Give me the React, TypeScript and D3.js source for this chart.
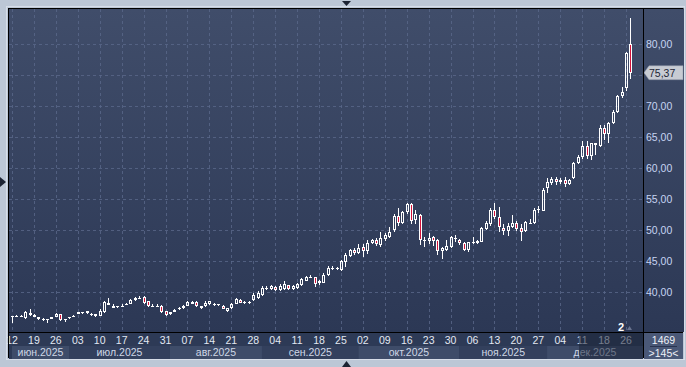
import React from 'react';
import * as d3 from 'd3';

const W = 686;
const H = 367;

// trading calendar (weekdays between these, minus holidays)
const startDate = new Date(2025, 5, 12);
const endDate = new Date(2025, 11, 29);
const holidays = ['2025-12-25'];

const monthLabels = ['июн.2025', 'июл.2025', 'авг.2025', 'сен.2025', 'окт.2025', 'ноя.2025', 'дек.2025'];
const priceTicks = [40, 45, 50, 55, 60, 65, 70, 75, 80];
const lastPrice = 75.37;
const boxTop = '1469';
const boxBottom = '>145<';
const markerLabel = '2';

const openP = [
  36.0, 36.0, 36.0, 35.8, 36.3, 36.0, 35.6, 35.5, 35.6, 35.7, 36.0, 36.4, 35.6, 35.8, 36.0, 36.5, 36.6, 36.6, 36.4, 36.1,
  36.2, 36.7, 38.2, 37.5, 37.6, 37.7, 38.1, 38.1, 38.7, 39.0, 39.2, 38.5, 37.8, 37.8, 37.8, 36.9, 36.4, 36.8, 37.2, 37.4,
  37.8, 38.1, 38.4, 37.5, 37.7, 38.0, 38.0, 38.0, 37.8, 37.0, 37.4, 38.1, 38.7, 38.4, 38.4, 38.7, 39.0, 39.5, 40.6, 40.5,
  40.8, 40.3, 40.5, 41.1, 40.5, 40.6, 41.1, 41.8, 42.4, 42.4, 41.4, 41.5, 42.7, 43.9, 43.8, 43.5, 44.8, 45.8, 46.8, 46.3,
  47.3, 46.6, 47.9, 48.4, 47.6, 48.5, 48.9, 50.0, 52.3, 51.1, 52.9, 54.2, 51.6, 52.4, 48.4, 48.2, 48.8, 48.4, 46.6, 46.8,
  47.3, 48.7, 48.4, 47.9, 46.8, 48.0, 47.9, 48.1, 50.2, 50.9, 53.2, 52.1, 50.3, 49.8, 50.5, 51.1, 50.3, 49.8, 51.2, 51.1,
  53.3, 53.1, 56.8, 57.6, 58.2, 57.7, 58.1, 57.5, 58.4, 60.8, 61.8, 63.5, 61.9, 63.7, 63.5, 66.5, 65.5, 67.3, 69.0, 71.6,
  72.9, 80.0,
];
const highP = [
  36.2, 36.3, 36.3, 37.0, 37.3, 36.4, 35.9, 35.8, 35.7, 36.0, 36.6, 36.5, 35.7, 36.0, 36.3, 36.8, 36.8, 37.0, 36.6, 36.5,
  37.2, 38.5, 39.0, 38.0, 37.8, 38.0, 38.3, 38.9, 39.2, 39.3, 39.3, 38.6, 38.0, 38.0, 37.9, 37.0, 36.8, 37.2, 37.6, 37.9,
  38.5, 38.5, 38.5, 37.8, 38.5, 38.6, 38.2, 38.1, 37.9, 37.5, 38.3, 39.0, 38.8, 38.6, 38.6, 39.8, 40.1, 40.9, 40.9, 41.2,
  41.0, 41.3, 41.7, 41.2, 41.1, 41.5, 42.3, 42.6, 42.8, 42.5, 42.0, 43.0, 44.2, 44.2, 44.1, 45.2, 46.3, 47.0, 47.1, 47.8,
  47.8, 48.4, 48.6, 48.7, 49.6, 49.5, 50.5, 52.6, 53.5, 53.0, 54.3, 54.4, 53.3, 52.6, 48.9, 49.5, 49.0, 48.6, 47.3, 48.4,
  49.0, 49.2, 48.6, 48.0, 48.1, 48.9, 48.4, 50.5, 51.5, 53.5, 54.4, 53.7, 50.9, 51.1, 52.4, 51.4, 51.0, 51.5, 51.7, 53.5,
  53.9, 56.7, 58.4, 58.6, 58.5, 58.4, 58.6, 58.3, 61.0, 62.1, 64.3, 64.4, 64.1, 64.1, 67.0, 67.0, 67.4, 69.4, 71.8, 73.0,
  78.7, 84.2,
];
const lowP = [
  35.0, 35.9, 35.9, 35.7, 36.2, 35.9, 35.5, 35.4, 35.0, 35.6, 35.9, 35.4, 35.1, 35.7, 35.9, 36.4, 36.5, 36.5, 36.2, 36.0,
  36.1, 36.6, 37.9, 37.4, 37.4, 37.6, 38.0, 38.0, 38.6, 38.9, 38.1, 37.6, 37.6, 37.6, 36.6, 36.2, 36.3, 36.7, 37.1, 37.3,
  37.7, 38.0, 37.6, 37.3, 37.6, 37.9, 37.8, 37.7, 37.2, 36.8, 37.3, 38.0, 38.2, 38.1, 38.1, 38.5, 38.9, 39.3, 40.3, 40.4,
  40.2, 40.2, 40.4, 40.3, 40.4, 40.5, 41.0, 41.7, 42.2, 40.8, 41.2, 41.4, 42.6, 43.6, 43.6, 43.4, 44.0, 45.7, 45.9, 46.1,
  45.6, 46.2, 47.8, 47.4, 47.3, 48.3, 48.7, 49.6, 50.6, 51.0, 52.6, 50.9, 51.0, 47.6, 47.3, 47.8, 47.5, 45.9, 45.3, 46.6,
  47.1, 48.1, 47.6, 46.6, 46.5, 47.7, 47.8, 48.0, 50.0, 50.6, 51.8, 49.7, 49.2, 49.0, 50.4, 49.8, 48.3, 49.7, 50.9, 51.0,
  52.8, 53.0, 55.9, 57.3, 57.2, 57.4, 57.0, 57.2, 58.2, 60.6, 61.5, 61.5, 61.3, 62.1, 63.4, 64.5, 64.0, 67.1, 68.9, 71.3,
  72.4, 74.4,
];
const closeP = [
  36.1, 36.1, 36.1, 36.8, 36.6, 36.3, 35.9, 35.7, 35.6, 35.9, 36.5, 35.5, 35.6, 35.9, 36.2, 36.7, 36.7, 36.9, 36.5, 36.4,
  36.9, 38.4, 37.9, 37.8, 37.7, 37.8, 38.1, 38.7, 39.1, 39.1, 38.3, 37.8, 37.8, 37.8, 36.7, 36.3, 36.7, 37.1, 37.5, 37.8,
  38.4, 38.4, 37.8, 37.7, 38.3, 38.5, 38.0, 38.0, 37.3, 37.4, 38.1, 38.8, 38.3, 38.4, 38.4, 39.5, 39.8, 40.6, 40.6, 41.0,
  40.3, 40.9, 41.3, 40.5, 40.9, 41.3, 42.1, 42.4, 42.4, 41.3, 41.8, 42.7, 43.9, 43.9, 43.9, 45.0, 46.0, 46.8, 46.3, 47.1,
  46.6, 47.9, 48.4, 47.7, 48.7, 49.2, 49.7, 52.3, 51.1, 52.9, 54.2, 51.5, 52.6, 48.4, 48.4, 48.7, 48.3, 46.6, 47.1, 47.4,
  48.9, 48.7, 47.9, 46.8, 48.0, 48.0, 48.3, 50.3, 51.1, 53.2, 52.1, 50.5, 49.8, 50.6, 51.1, 50.2, 49.7, 51.3, 51.2, 53.2,
  53.4, 56.5, 57.7, 58.2, 57.7, 58.0, 57.4, 58.1, 60.8, 61.8, 63.5, 62.0, 64.0, 64.0, 66.5, 65.5, 67.3, 69.0, 71.6, 72.2,
  78.5, 75.37,
];

const fmtKey = d3.timeFormat('%Y-%m-%d');
const tradingDays: Date[] = d3
  .timeDay.range(startDate, d3.timeDay.offset(endDate, 1))
  .filter((d) => d.getDay() !== 0 && d.getDay() !== 6 && !holidays.includes(fmtKey(d)));

const PL = 9, PR = 642, PT = 9, PB = 331; // plot area
const AXL = 644, AXR = 683; // right axis panel
const BOT = 358;

export default function App() {
  const n = openP.length;
  const x = d3.scaleLinear().domain([0, n - 1]).range([12, 630.4]);
  const y = d3.scaleLinear().domain([40, 80]).range([292, 44]);
  const fmtPrice = (v: number) => d3.format('.2f')(v).replace('.', ',');
  const fmtDay = d3.timeFormat('%d');

  const tickIdx = d3.range(0, n, 5);
  const monthStarts: number[] = [];
  tradingDays.forEach((d, i) => {
    if (i === 0 || d.getMonth() !== tradingDays[i - 1].getMonth()) monthStarts.push(i);
  });

  const candles = d3.range(n).map((i) => {
    const cx = Math.round(x(i));
    const o = openP[i], c = closeP[i];
    const top = Math.round(y(Math.max(o, c)));
    const bot = Math.round(y(Math.min(o, c)));
    const yh = Math.round(y(highP[i]));
    const yl = Math.round(y(lowP[i]));
    const down = c < o;
    const els: React.ReactNode[] = [];
    if (yh < top) els.push(<line key="h" x1={cx + 0.5} x2={cx + 0.5} y1={yh} y2={top} stroke="#fff" strokeWidth={1} />);
    if (yl > bot) els.push(<line key="l" x1={cx + 0.5} x2={cx + 0.5} y1={bot} y2={yl} stroke="#fff" strokeWidth={1} />);
    if (bot - top < 2) {
      els.push(<rect key="b" x={cx - 1} y={top} width={3} height={Math.max(bot - top, 1)} fill="#fff" />);
    } else {
      els.push(
        <rect key="b" x={cx - 0.5} y={top + 0.5} width={2} height={bot - top - 1}
          fill={down ? '#d3123a' : 'none'} stroke="#fff" strokeWidth={1} />
      );
    }
    return <g key={i}>{els}</g>;
  });

  const yLast = y(lastPrice);
  const labelTicks = priceTicks.filter((p) => Math.abs(y(p) - yLast) > 10);

  return (
    <svg width={W} height={H} style={{ position: 'absolute', left: 0, top: 0 }}
      fontFamily="'Liberation Sans', Arial, sans-serif">
      <defs>
        <linearGradient id="bg" x1="0" y1="0" x2="0" y2="1">
          <stop offset="0" stopColor="#404d6a" />
          <stop offset="1" stopColor="#2c3855" />
        </linearGradient>
      </defs>
      <rect x={0} y={0} width={W} height={H} fill="#bcc7d6" />
      <rect x={6.5} y={6.5} width={AXR - 5} height={BOT - 5} fill="none" stroke="#d6dde8" />
      <rect x={PL} y={PT} width={AXR - PL + 1} height={PB - PT + 1} fill="url(#bg)" />
      {/* bottom axis rows */}
      <rect x={PL} y={333} width={AXL - PL - 1} height={BOT - 333 + 1} fill="#2d3a56" />
      {monthStarts.map((s, k) => {
        const x0 = x(s);
        const x1 = k < monthStarts.length - 1 ? x(monthStarts[k + 1]) : 643;
        return (
          <g key={k}>
            <rect x={x0} y={346} width={x1 - x0} height={13} fill={k % 2 === 0 ? '#3e4c69' : '#33405d'} />
            <text x={(x0 + x1) / 2} y={356} textAnchor="middle" fontSize={10.5} fill="#cfd7e6">{monthLabels[k]}</text>
          </g>
        );
      })}
      {tickIdx.map((i) => (
        <text key={i} x={x(i)} y={344} textAnchor="middle" fontSize={10.5} fill="#e2e8f2">{fmtDay(tradingDays[i])}</text>
      ))}
      <rect x={579} y={333} width={643 - 579} height={BOT - 333 + 1} fill="#1c2438" opacity={0.55} />
      {/* right bottom box */}
      <rect x={AXL} y={333} width={AXR - AXL} height={BOT - 333 + 1} fill="#4a5877" />
      <text x={663.5} y={344} textAnchor="middle" fontSize={10.5} fill="#eef2f8">{boxTop}</text>
      <line x1={650} x2={677} y1={346.5} y2={346.5} stroke="#2a3450" />
      <text x={663.5} y={357} textAnchor="middle" fontSize={10.5} fill="#eef2f8">{boxBottom}</text>
      {/* grid */}
      {tickIdx.map((i) => (
        <line key={'v' + i} x1={Math.round(x(i)) + 0.5} x2={Math.round(x(i)) + 0.5} y1={PT} y2={PB}
          stroke="#5a688a" strokeWidth={1} strokeDasharray="3,3" opacity={0.8} />
      ))}
      {priceTicks.map((p) => (
        <line key={'h' + p} x1={PL} x2={642} y1={Math.round(y(p)) + 0.5} y2={Math.round(y(p)) + 0.5}
          stroke="#5a688a" strokeWidth={1} strokeDasharray="3,3" opacity={0.8} />
      ))}
      {/* candles */}
      <g>{candles}</g>
      {/* marker */}
      <text x={621} y={331} textAnchor="middle" fontSize={11} fontWeight="bold" fill="#ffffff">{markerLabel}</text>
      <polygon points="627,330 632,330 629.5,326" fill="#6b7590" />
      {/* price axis */}
      {labelTicks.map((p) => (
        <text key={'t' + p} x={646} y={y(p) + 4} fontSize={10.5} fill="#c6d4f2">{fmtPrice(p)}</text>
      ))}
      <polygon points={`${AXL},${yLast} ${AXL + 5},${yLast - 7} ${AXR},${yLast - 7} ${AXR},${yLast + 7} ${AXL + 5},${yLast + 7}`}
        fill="#c7cbd3" stroke="#8f96a6" strokeWidth={0.5} />
      <text x={649} y={yLast + 4} fontSize={10.5} fill="#1e2535">{fmtPrice(lastPrice)}</text>
      {/* frame lines */}
      <line x1={PL - 1} x2={AXR + 0.5} y1={8.5} y2={8.5} stroke="#000" />
      <line x1={8.5} x2={8.5} y1={PT - 1} y2={BOT} stroke="#000" />
      <line x1={643.5} x2={643.5} y1={PT} y2={BOT} stroke="#000" />
      <line x1={PL} x2={AXR} y1={332.5} y2={332.5} stroke="#000" />
      {/* navigation triangles */}
      <polygon points="342,1 351,1 346.5,6" fill="#1c2333" />
      <polygon points="342,367 351,367 346.5,361" fill="#1c2333" />
      <polygon points="0,177 0,187 6,182" fill="#1c2333" />
    </svg>
  );
}
